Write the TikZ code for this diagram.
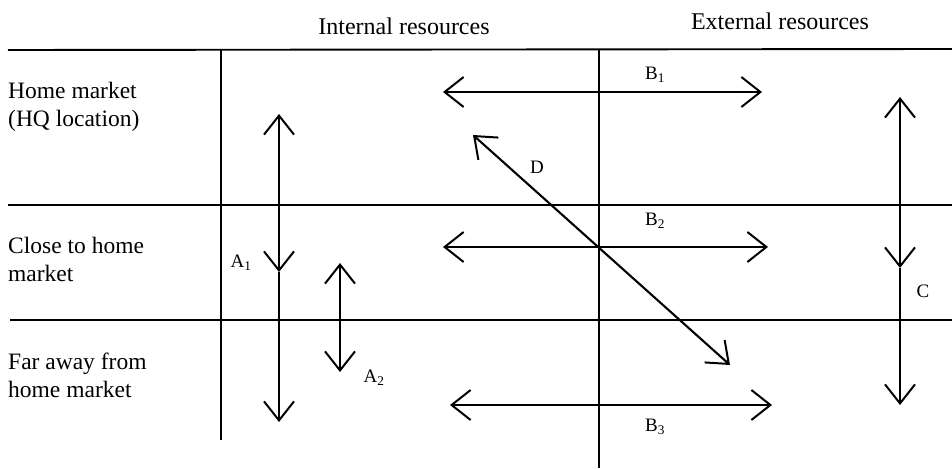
\documentclass[tikz,border=0pt]{standalone}
\usepackage{fontspec}
\setmainfont{Liberation Serif}
\usetikzlibrary{arrows.meta}
\tikzset{
  grid/.style={line width=1.9pt},
  vgrid/.style={line width=1.6pt},
  arr/.style={line width=2.1pt},
  hd/.tip={Straight Barb[length=19pt,width=30pt,line width=2pt]},
  rowlbl/.style={anchor=west, align=left, font=\fontsize{23.5}{28}\selectfont, inner sep=0pt},
  head/.style={font=\fontsize{24}{28}\selectfont, inner sep=0pt},
  lbl/.style={font=\fontsize{19}{22}\selectfont, inner sep=0pt}
}
\begin{document}
\begin{tikzpicture}[x=1pt,y=-1pt]
\useasboundingbox (0,0) rectangle (952,468);
% grid coordinates
\coordinate (t0) at (8,50);   \coordinate (t1) at (952,49);
\coordinate (m0) at (8,205);  \coordinate (m1) at (952,205);
\coordinate (b0) at (10,320); \coordinate (b1) at (952,320);
\coordinate (l0) at (221,50); \coordinate (l1) at (221,440);
\coordinate (c0) at (599,49); \coordinate (c1) at (599,468);
\draw[grid] (t0) -- (t1);
\draw[grid] (m0) -- (m1);
\draw[grid] (b0) -- (b1);
\draw[vgrid] (l0) -- (l1);
\draw[vgrid] (c0) -- (c1);
% headers
\node[head] (hint) at (404,26) {Internal resources};
\node[head] (hext) at (780,21) {External resources};
% row labels
\node[rowlbl] (r1) at (8,107) {Home market\\(HQ location)};
\node[rowlbl] (r2) at (8,259) {Close to home\\market};
\node[rowlbl] (r3) at (8,375) {Far away from\\home market};
% arrow end points
\coordinate (a1t) at (279,114); \coordinate (a1m) at (279,272); \coordinate (a1b) at (279,422);
\coordinate (a2t) at (340,263); \coordinate (a2b) at (340,372);
\coordinate (b1l) at (443,92);  \coordinate (b1r) at (762,92);
\coordinate (b2l) at (443,247); \coordinate (b2r) at (768,247);
\coordinate (b3l) at (450,405); \coordinate (b3r) at (772,405);
\coordinate (dt) at (473,135);  \coordinate (db) at (730,365);
\coordinate (ct) at (900,97);   \coordinate (cm) at (900,268); \coordinate (cb) at (900,405);
% arrows
\draw[arr, hd-hd] (a1t) -- (a1m);
\draw[arr, -hd] (a1m) -- (a1b);
\draw[arr, hd-hd] (a2t) -- (a2b);
\draw[arr, hd-hd] (b1l) -- (b1r);
\draw[arr, hd-hd] (b2l) -- (b2r);
\draw[arr, hd-hd] (b3l) -- (b3r);
\draw[arr, hd-hd] (dt) -- (db);
\draw[arr, hd-hd] (ct) -- (cm);
\draw[arr, -hd] (cm) -- (cb);
% arrow labels
\node[lbl] (la1) at (241,263) {A\textsubscript{1}};
\node[lbl] (la2) at (374,378) {A\textsubscript{2}};
\node[lbl] (lb1) at (655,75) {B\textsubscript{1}};
\node[lbl] (lb2) at (655,221) {B\textsubscript{2}};
\node[lbl] (lb3) at (655,427) {B\textsubscript{3}};
\node[lbl] (ld) at (537,167) {D};
\node[lbl] (lc) at (923,291) {C};
\end{tikzpicture}
\end{document}
